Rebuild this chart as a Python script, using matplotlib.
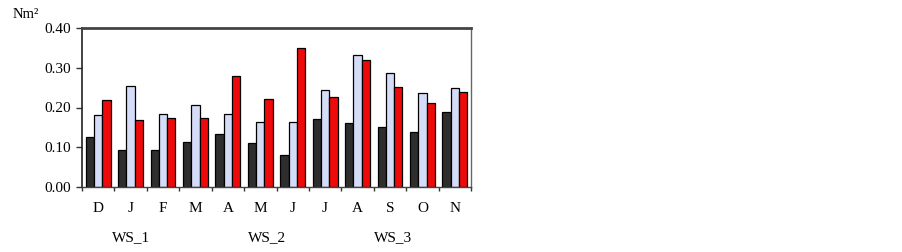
import matplotlib
matplotlib.use("Agg")
import matplotlib.pyplot as plt
import numpy as np

plt.rcParams['font.family'] = ['Liberation Serif', 'DejaVu Serif']

months = ["D", "J", "F", "M", "A", "M", "J", "J", "A", "S", "O", "N"]
ws1 = [0.125, 0.092, 0.092, 0.114, 0.133, 0.111, 0.080, 0.171, 0.161, 0.152, 0.139, 0.189]
ws2 = [0.180, 0.255, 0.183, 0.206, 0.183, 0.164, 0.164, 0.244, 0.331, 0.287, 0.236, 0.249]
ws3 = [0.219, 0.168, 0.174, 0.174, 0.278, 0.221, 0.350, 0.227, 0.319, 0.252, 0.211, 0.240]
series_labels = ["WS_1", "WS_2", "WS_3"]
yticks = [0.00, 0.10, 0.20, 0.30, 0.40]

colors = ["#2e2e2e", "#d4dcf8", "#ee0a0a"]

fig = plt.figure(figsize=(9.02, 2.52), dpi=100)
ax = fig.add_axes([82/902, 1-187/252, (471-82)/902, (187-28)/252])

x = np.arange(len(months))
w = 0.255
for k, (vals, c) in enumerate(zip([ws1, ws2, ws3], colors)):
    ax.bar(x + (k-1)*w, vals, width=w, color=c, edgecolor="black", linewidth=0.9, align="center")

ax.set_xlim(-0.5, len(months)-0.5)
ax.set_ylim(0, 0.40)
ax.set_yticks(yticks)
ax.set_yticklabels([f"{v:.2f}" for v in yticks], fontsize=11)
ax.set_xticks(np.arange(len(months)+1) - 0.5)
ax.set_xticklabels([])
ax.tick_params(axis='x', direction='out', length=3, width=1, color="#333333")
ax.tick_params(axis='y', direction='out', length=4, width=1, color="#333333", pad=4)

for i, m in enumerate(months):
    ax.text(i, -0.055, m, ha='center', va='center', fontsize=11, transform=ax.transData)

for lab, pos in zip(series_labels, [1, 5.2, 9.1]):
    ax.text(pos, -0.128, lab, ha='center', va='center', fontsize=11, transform=ax.transData, clip_on=False)

ax.spines['top'].set_color("#444444")
ax.spines['top'].set_linewidth(2)
ax.spines['left'].set_color("#222222")
ax.spines['left'].set_linewidth(1.2)
ax.spines['right'].set_color("#666666")
ax.spines['right'].set_linewidth(1)
ax.spines['bottom'].set_color("#444444")
ax.spines['bottom'].set_linewidth(1)

fig.text(13/902, 1-14/252, "Nm²", fontsize=10.5, ha='left', va='center')

fig.savefig("out.png", dpi=100)
